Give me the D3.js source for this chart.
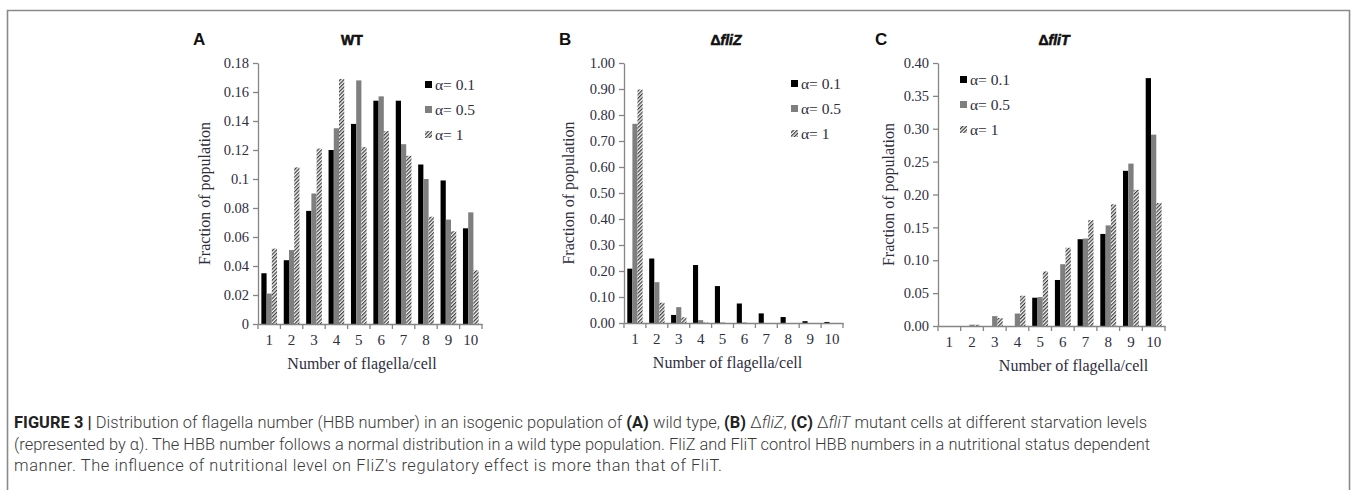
<!DOCTYPE html>
<html>
<head>
<meta charset="utf-8">
<script src="https://cdn.jsdelivr.net/npm/d3@7"></script>
<style>
  html, body { margin: 0; padding: 0; background: #fff; }
  svg { display: block; }
</style>
</head>
<body>
<svg id="chart" width="1357" height="490"></svg>
<script>
// ---------- DATA ----------
const categories = ["1","2","3","4","5","6","7","8","9","10"];
const seriesNames = ["α= 0.1", "α= 0.5", "α= 1"];

// Panel A: wild type
const wtAlpha01 = [0.035, 0.044, 0.078, 0.120, 0.138, 0.154, 0.154, 0.110, 0.099, 0.066];
const wtAlpha05 = [0.021, 0.051, 0.090, 0.135, 0.168, 0.157, 0.124, 0.100, 0.072, 0.077];
const wtAlpha1  = [0.052, 0.108, 0.121, 0.169, 0.122, 0.133, 0.116, 0.074, 0.064, 0.037];
const wtTicks = [0, 0.02, 0.04, 0.06, 0.08, 0.1, 0.12, 0.14, 0.16, 0.18];
const wtTickLabels = ["0","0.02","0.04","0.06","0.08","0.1","0.12","0.14","0.16","0.18"];

// Panel B: ΔfliZ
const flizAlpha01 = [0.209, 0.248, 0.031, 0.223, 0.142, 0.075, 0.037, 0.023, 0.007, 0.004];
const flizAlpha05 = [0.766, 0.157, 0.061, 0.011, 0.002, 0.002, 0.000, 0.000, 0.000, 0.000];
const flizAlpha1  = [0.898, 0.078, 0.022, 0.002, 0.000, 0.000, 0.000, 0.000, 0.000, 0.000];
const flizTicks = [0,0.1,0.2,0.3,0.4,0.5,0.6,0.7,0.8,0.9,1.0];
const flizTickLabels = ["0.00","0.10","0.20","0.30","0.40","0.50","0.60","0.70","0.80","0.90","1.00"];

// Panel C: ΔfliT
const flitAlpha01 = [0.000, 0.000, 0.000, 0.000, 0.043, 0.070, 0.132, 0.140, 0.236, 0.377];
const flitAlpha05 = [0.000, 0.002, 0.015, 0.019, 0.044, 0.094, 0.133, 0.153, 0.247, 0.291];
const flitAlpha1  = [0.000, 0.002, 0.012, 0.046, 0.083, 0.119, 0.161, 0.185, 0.207, 0.187];
const flitTicks = [0,0.05,0.1,0.15,0.2,0.25,0.3,0.35,0.4];
const flitTickLabels = ["0.00","0.05","0.10","0.15","0.20","0.25","0.30","0.35","0.40"];

const xTitle = "Number of flagella/cell";
const yTitle = "Fraction of population";

// ---------- DRAW ----------
const svg = d3.select("#chart");
const defs = svg.append("defs");
const hatch = defs.append("pattern")
  .attr("id", "hatch").attr("patternUnits", "userSpaceOnUse")
  .attr("width", 2.6).attr("height", 2.6)
  .attr("patternTransform", "rotate(45)");
hatch.append("rect").attr("width", 2.6).attr("height", 2.6).attr("fill", "#f4f4f4");
hatch.append("line").attr("x1", 0.6).attr("y1", 0).attr("x2", 0.6).attr("y2", 2.6)
  .attr("stroke", "#3a3a3a").attr("stroke-width", 1.2);

const fills = ["#000000", "#7f7f7f", "url(#hatch)"];
const serif = "'Liberation Serif', 'Times New Roman', serif";
const sans = "'Liberation Sans', Arial, sans-serif";
const labelColor = "#2e2e3e";
const axisColor = "#858585";

// frame
svg.append("path")
  .attr("d", "M7.5,490 L7.5,10.5 L1349.5,10.5 L1349.5,490")
  .attr("fill", "none").attr("stroke", "#8a8a8a").attr("stroke-width", 1.6);

function drawPanel(p) {
  const g = svg.append("g");
  const x = d3.scaleBand().domain(categories).range([p.x0, p.x1])
    .paddingInner(0.3).paddingOuter(0.15);
  const xs = d3.scaleBand().domain(seriesNames).range([0, x.bandwidth()]);
  const y = d3.scaleLinear().domain([0, p.ymax]).range([p.yBase, p.yTop]);

  // bars
  p.series.forEach((vals, si) => {
    g.append("g").selectAll("rect").data(vals).join("rect")
      .attr("x", (d, i) => x(categories[i]) + xs(seriesNames[si]))
      .attr("width", xs.bandwidth())
      .attr("y", d => y(d))
      .attr("height", d => y(0) - y(d))
      .attr("fill", fills[si]);
  });

  // y axis
  const yAxis = d3.axisLeft(y).tickValues(p.ticks)
    .tickFormat((d, i) => p.tickLabels[i]).tickSize(5).tickSizeOuter(0);
  const ya = g.append("g").attr("transform", `translate(${p.x0},0)`).call(yAxis);
  ya.select(".domain").attr("stroke", axisColor).attr("stroke-width", 1.3);
  ya.selectAll(".tick line").attr("stroke", axisColor).attr("stroke-width", 1.3);
  ya.selectAll(".tick text").attr("font-family", serif).attr("font-size", 14.5)
    .attr("fill", labelColor).attr("x", -9);

  // x axis
  const xAxis = d3.axisBottom(x).tickSize(0).tickSizeOuter(0);
  const xa = g.append("g").attr("transform", `translate(0,${p.yBase})`).call(xAxis);
  xa.select(".domain").attr("stroke", axisColor).attr("stroke-width", 1.3);
  xa.selectAll(".tick text").attr("font-family", serif).attr("font-size", 15)
    .attr("fill", labelColor).attr("y", 10);
  // tick marks at band boundaries
  const bounds = categories.map(c => x(c) - x.step() * x.paddingInner() / 2);
  bounds.push(p.x1);
  xa.selectAll("line.bound").data(bounds).join("line").attr("class", "bound")
    .attr("x1", d => d).attr("x2", d => d).attr("y1", 0).attr("y2", 5)
    .attr("stroke", axisColor).attr("stroke-width", 1.3);

  // axis titles
  g.append("text").attr("x", (p.x0 + p.x1) / 2 + p.xTitleDx).attr("y", p.yBase + 45)
    .attr("text-anchor", "middle").attr("font-family", serif).attr("font-size", 16)
    .attr("fill", labelColor).text(xTitle);
  g.append("text")
    .attr("transform", `translate(${p.yTitleX},${(p.yBase + p.yTop) / 2}) rotate(-90)`)
    .attr("text-anchor", "middle").attr("font-family", serif).attr("font-size", 16)
    .attr("fill", labelColor).text(yTitle);

  // panel letter
  g.append("text").attr("x", p.letterX).attr("y", 45)
    .attr("font-family", sans).attr("font-weight", "bold").attr("font-size", 17)
    .attr("fill", "#111").text(p.letter);

  // title
  const t = g.append("text").attr("x", p.titleX).attr("y", 45)
    .attr("text-anchor", "middle").attr("font-family", sans).attr("font-weight", "bold")
    .attr("font-size", 14).attr("fill", "#111")
    .attr("stroke", "#111").attr("stroke-width", 0.6);
  p.title.forEach(part => {
    t.append("tspan").attr("font-style", part.italic ? "italic" : "normal").text(part.text);
  });

  // legend
  const lg = g.append("g");
  seriesNames.forEach((name, i) => {
    const ly = p.legY + i * p.legGap;
    lg.append("rect").attr("x", p.legX).attr("y", ly - 4).attr("width", 7).attr("height", 7)
      .attr("fill", fills[i]);
    lg.append("text").attr("x", p.legX + 10).attr("y", ly + 4.5)
      .attr("font-family", serif).attr("font-size", 15.5).attr("fill", labelColor).text(name);
  });
}

drawPanel({
  letter: "A", letterX: 193, title: [{text: "WT"}], titleX: 352,
  x0: 258, x1: 482, yBase: 324, yTop: 63, ymax: 0.18,
  ticks: wtTicks, tickLabels: wtTickLabels,
  series: [wtAlpha01, wtAlpha05, wtAlpha1],
  yTitleX: 210, xTitleDx: -8,
  legX: 425, legY: 85, legGap: 25
});
drawPanel({
  letter: "B", letterX: 559, title: [{text: "Δ"}, {text: "fliZ", italic: true}], titleX: 726,
  x0: 624, x1: 843, yBase: 323, yTop: 63, ymax: 1.0,
  ticks: flizTicks, tickLabels: flizTickLabels,
  series: [flizAlpha01, flizAlpha05, flizAlpha1],
  yTitleX: 574, xTitleDx: -6,
  legX: 791, legY: 84, legGap: 25
});
drawPanel({
  letter: "C", letterX: 875, title: [{text: "Δ"}, {text: "fliT", italic: true}], titleX: 1054,
  x0: 938, x1: 1165, yBase: 326, yTop: 63, ymax: 0.40,
  ticks: flitTicks, tickLabels: flitTickLabels,
  series: [flitAlpha01, flitAlpha05, flitAlpha1],
  yTitleX: 894, xTitleDx: 22,
  legX: 960, legY: 80, legGap: 25
});

// caption
const capFont = "Roboto, 'Liberation Sans', sans-serif";
const cap = svg.append("g").attr("font-family", capFont).attr("font-size", 16.4).attr("fill", "#333");
const lines = [
  [{t: "FIGURE 3 | ", b: true}, {t: "Distribution of flagella number (HBB number) in an isogenic population of "},
   {t: "(A)", b: true}, {t: " wild type, "}, {t: "(B)", b: true}, {t: " Δ"}, {t: "fliZ", i: true}, {t: ", "},
   {t: "(C)", b: true}, {t: " Δ"}, {t: "fliT", i: true}, {t: " mutant cells at different starvation levels"}],
  [{t: "(represented by α). The HBB number follows a normal distribution in a wild type population. FliZ and FliT control HBB numbers in a nutritional status dependent"}],
  [{t: "manner. The influence of nutritional level on FliZ's regulatory effect is more than that of FliT."}]
];
const capY = [428, 449.5, 471];
const capWidths = [1133, 1136, 708];
lines.forEach((parts, li) => {
  const tx = cap.append("text").attr("x", 14).attr("y", capY[li]).attr("xml:space", "preserve")
    .attr("textLength", capWidths[li]).attr("lengthAdjust", "spacing");
  parts.forEach(p => {
    tx.append("tspan").attr("font-weight", p.b ? "bold" : "300")
      .attr("font-style", p.i ? "italic" : "normal")
      .attr("fill", p.b ? "#222" : "#3a3a3a").text(p.t);
  });
});
</script>
</body>
</html>
